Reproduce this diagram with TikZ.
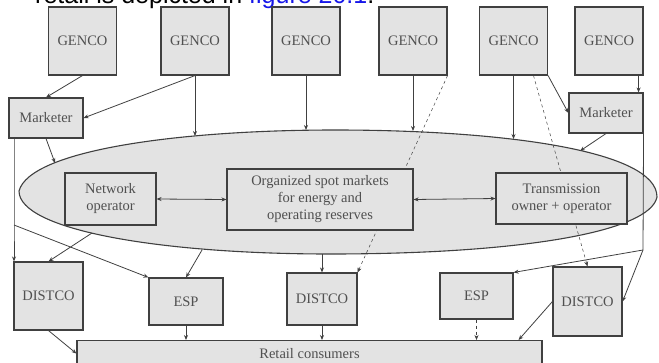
\documentclass[tikz,border=0pt]{standalone}
\usepackage{fontspec}
\setmainfont{Liberation Serif}
\newfontfamily\headfont{Liberation Sans}
\usetikzlibrary{arrows.meta}
\pgfdeclarelayer{back}
\pgfdeclarelayer{links}
\pgfsetlayers{back,links,main}
\definecolor{boxgray}{HTML}{E3E3E3}
\definecolor{linegray}{HTML}{404040}
\definecolor{textgray}{HTML}{505050}
\definecolor{linkblue}{HTML}{1515E8}
\tikzset{
  box/.style={draw=linegray, fill=boxgray, line width=1.1pt, text=textgray, align=center, inner sep=2pt, font=\fontsize{14.5}{17}\selectfont},
  genco/.style={box, minimum width=68pt, minimum height=68pt},
  link/.style={draw=linegray, line width=0.8pt, -{Stealth[length=5pt,width=4pt]}},
  dlink/.style={link, line width=0.5pt, dashed},
  both/.style={link, {Stealth[length=5pt,width=4pt]}-{Stealth[length=5pt,width=4pt]}},
}
\begin{document}
\begin{tikzpicture}[x=1pt, y=-1pt]
\useasboundingbox (0,0) rectangle (659,362);
\clip (0,0) rectangle (659,362);

% caption line above the figure, cut off
\node[anchor=base west, inner sep=0pt, font=\headfont\fontsize{25}{30}\selectfont] (caption) at (35,3) {retail is depicted in \textcolor{linkblue}{figure 20.1}.};

% generating companies
\node[genco] (g1) at (82.5,41) {GENCO};
\node[genco] (g2) at (195,41) {GENCO};
\node[genco] (g3) at (306,41) {GENCO};
\node[genco] (g4) at (413,41) {GENCO};
\node[genco] (g5) at (513.5,41) {GENCO};
\node[genco] (g6) at (609,41) {GENCO};

% marketers
\node[box, minimum width=74pt, minimum height=40pt] (ml) at (46,118) {Marketer};
\node[box, minimum width=74pt, minimum height=40pt] (mr) at (606,113) {Marketer};

% spot market ellipse
\begin{pgfonlayer}{back}
\draw[draw=linegray, fill=boxgray, line width=1.1pt] (19,191) .. controls (30,150) and (180,130) .. (335,130) .. controls (500,130) and (657,150) .. (657,197) .. controls (650,232) and (520,254) .. (330,254) .. controls (160,254) and (19,230) .. (19,191) -- cycle;
\end{pgfonlayer}
\node[box, minimum width=91pt, minimum height=52pt] (netop) at (110.5,199) {Network\\operator};
\node[box, minimum width=186pt, minimum height=61pt] (spot) at (320,199.5) {Organized spot markets\\for energy and\\operating reserves};
\node[box, minimum width=131pt, minimum height=51pt] (trans) at (561.5,198.5) {Transmission\\owner + operator};

% distribution and service providers
\node[box, minimum width=69pt, minimum height=68pt] (dl) at (48.5,296) {DISTCO};
\node[box, minimum width=74pt, minimum height=47pt] (el) at (186,301.5) {ESP};
\node[box, minimum width=70pt, minimum height=52pt] (dm) at (322,299) {DISTCO};
\node[box, minimum width=73pt, minimum height=46pt] (er) at (476.5,296) {ESP};
\node[box, minimum width=69pt, minimum height=69pt] (dr) at (587.5,301.5) {DISTCO};
\node[box, minimum width=465pt, minimum height=26pt, anchor=north] (retail) at (309.5,340) {Retail consumers};

% points on the ellipse border
\coordinate (e2) at (195,136);
\coordinate (e3) at (306,130);
\coordinate (e4) at (413,131);
\coordinate (e5) at (513.5,139);
\coordinate (eml) at (55,163);
\coordinate (emr) at (580,151);
\coordinate (edl) at (92,233);
\coordinate (eel) at (202,250);
\coordinate (edm) at (322,254);
\coordinate (bl) at (14,225);
\coordinate (br) at (643,250);

\begin{pgfonlayer}{links}
\draw[link] (g1.south) -- (ml.north);
\draw[link] (g2.south) -- (ml.east);
\draw[link] (g2.south) -- (e2);
\draw[link] (g3.south) -- (e3);
\draw[link] (g4.south) -- (e4);
\draw[dlink] (g4.south east) -- (dm.north east);
\draw[link, line width=0.5pt] (g5.south) -- (e5);
\draw[dlink] ([xshift=20pt]g5.south) -- (dr.north);
\draw[link] (g5.south east) -- (mr.west);
\draw[link] ([xshift=-5pt]g6.south east) -- ([xshift=-5pt]mr.north east);
\draw[link] (ml.south) -- (eml);
\draw[link] (mr.south) -- (emr);
\draw[both] (netop.east) -- (spot.west);
\draw[both] (spot.east) -- (trans.west);
\draw[link] (ml.south -| bl) -- (bl) -- (bl |- dl.north);
\draw[link] (bl) -- (el.north west);
\draw[link] (edl) -- (dl.north);
\draw[link] (eel) -- (el.north);
\draw[link] (edm) -- (dm.north);
\draw[draw=linegray, line width=0.8pt] (mr.south east) -- (br);
\draw[link] (br) -- (er.north east);
\draw[link] (br) -- (dr.east);
\draw[link] (dl.south) -- (retail.west);
\draw[link] (el.south) -- (el.south |- retail.north);
\draw[link] (dm.south) -- (dm.south |- retail.north);
\draw[dlink] (er.south) -- (er.south |- retail.north);
\draw[link] (dr.west) -- ([xshift=-24pt]retail.north east);
\end{pgfonlayer}
\end{tikzpicture}
\end{document}
